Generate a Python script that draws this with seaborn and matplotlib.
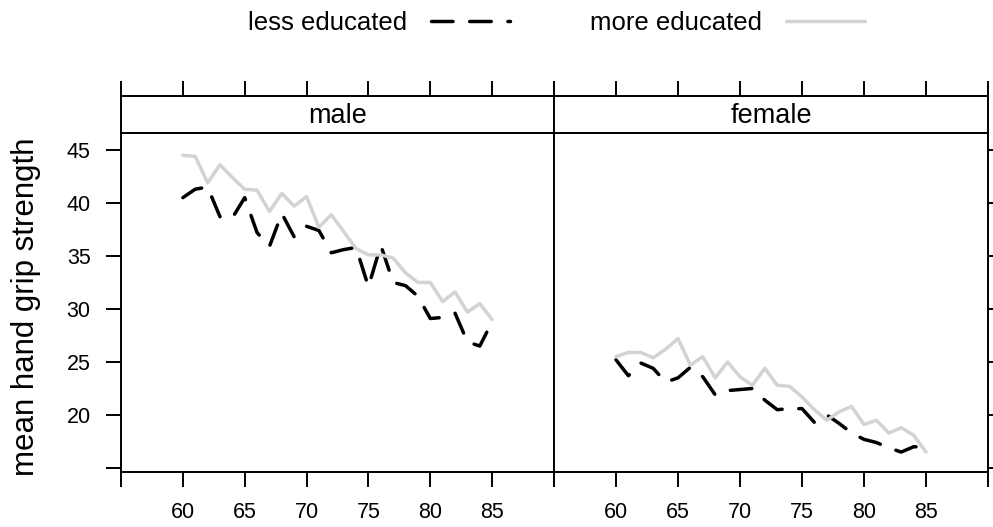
import numpy as np
import pandas as pd
import matplotlib
matplotlib.use("Agg")
import matplotlib.pyplot as plt
import seaborn as sns
from matplotlib.lines import Line2D

# values
ages = list(range(60, 86))
male_less = [40.5, 41.3, 41.5, 38.7, 38.6, 40.5, 37.2, 35.9, 39.0, 36.8, 37.8, 37.4, 35.3,
             35.6, 35.8, 32.1, 36.0, 32.5, 32.2, 31.2, 29.1, 29.2, 29.6, 26.9, 26.5, 28.8]
male_more = [44.5, 44.4, 41.9, 43.6, 42.4, 41.3, 41.2, 39.2, 40.9, 39.7, 40.6, 37.7, 38.9,
             37.3, 35.7, 35.1, 35.1, 34.8, 33.4, 32.5, 32.5, 30.7, 31.6, 29.7, 30.5, 29.0]
female_less = [25.2, 23.7, 24.9, 24.4, 23.1, 23.5, 24.5, 23.6, 21.9, 22.3, 22.4, 22.5, 21.4,
               20.5, 20.6, 20.6, 19.3, 20.0, 19.2, 18.3, 17.7, 17.4, 16.9, 16.5, 17.0, 17.0]
female_more = [25.5, 25.9, 25.9, 25.4, 26.2, 27.2, 24.7, 25.5, 23.5, 25.0, 23.6, 22.8, 24.4,
               22.8, 22.7, 21.7, 20.5, 19.5, 20.3, 20.8, 19.1, 19.5, 18.3, 18.8, 18.1, 16.5]
sexes = ["male", "female"]
educ_levels = ["less educated", "more educated"]
x_ticks = [55, 60, 65, 70, 75, 80, 85, 90]
y_ticks = [15, 20, 25, 30, 35, 40, 45]

frames = []
for sex, less, more in [("male", male_less, male_more), ("female", female_less, female_more)]:
    for educ, vals in zip(educ_levels, [less, more]):
        frames.append(pd.DataFrame({"age": ages, "grip": vals, "sex": sex, "educ": educ}))
df = pd.concat(frames, ignore_index=True)

sns.set_style("white")
plt.rcParams["font.family"] = ["Liberation Sans", "DejaVu Sans"]
plt.rcParams["text.color"] = "black"
plt.rcParams["axes.labelcolor"] = "black"
plt.rcParams["xtick.color"] = "black"
plt.rcParams["ytick.color"] = "black"

palette = {"less educated": "black", "more educated": "#D3D3D3"}
dashes = {"less educated": (6.2, 4.8), "more educated": ""}
lw = 2.5

W, H = 993, 527
fig = plt.figure(figsize=(W / 100, H / 100), dpi=100)

def box(x0, y0, x1, y1):
    return [x0 / W, 1 - y1 / H, (x1 - x0) / W, (y1 - y0) / H]

spine_w = 1.4
tick_kw = dict(length=10.8, width=spine_w, direction="out", labelsize=15.5, pad=11,
               color="black", labelcolor="black")
xlabels = ["" if t in (55, 90) else str(t) for t in x_ticks]
ylabels = ["" if t == 15 else str(t) for t in y_ticks]

for i, (sex, x0, x1) in enumerate([("male", 121, 554), ("female", 554, 988)]):
    ax = fig.add_axes(box(x0, 133, x1, 472))
    sns.lineplot(data=df[df["sex"] == sex], x="age", y="grip", hue="educ", style="educ",
                 hue_order=educ_levels, style_order=educ_levels, palette=palette,
                 dashes=dashes, linewidth=lw, errorbar=None, legend=False, ax=ax,
                 dash_capstyle="round", solid_capstyle="round", solid_joinstyle="round")
    ax.set_xlim(55, 90)
    ax.set_ylim(14.62, 46.6)
    ax.set_xlabel("")
    ax.set_ylabel("")
    ax.set_xticks(x_ticks)
    ax.set_xticklabels(xlabels)
    ax.set_yticks(y_ticks)
    ax.set_yticklabels(ylabels)
    ax.tick_params(**tick_kw)
    if i == 0:
        ax.tick_params(axis="y", left=True, right=False, labelleft=True)
    else:
        ax.tick_params(axis="y", left=False, right=True, labelleft=False, labelright=False)
    ax.tick_params(axis="x", bottom=True, top=False)
    for s in ax.spines.values():
        s.set_linewidth(spine_w)
        s.set_color("black")

    strip = fig.add_axes(box(x0, 96, x1, 133))
    strip.set_xlim(55, 90)
    strip.set_ylim(0, 1)
    strip.set_xticks(x_ticks)
    strip.set_yticks([])
    strip.tick_params(axis="x", **tick_kw)
    strip.tick_params(axis="x", bottom=False, top=True, labelbottom=False, labeltop=False)
    for s in strip.spines.values():
        s.set_linewidth(spine_w)
        s.set_color("black")
    strip.text(0.5, 0.45, sex, transform=strip.transAxes, ha="center", va="center",
               fontsize=19.5, color="black")

fig.text(26 / W, 1 - 307 / H, "mean hand grip strength", rotation=90,
         ha="center", va="center", fontsize=22.5, color="black")

handles = [
    Line2D([], [], color=palette["less educated"], lw=lw, dashes=dashes["less educated"],
           dash_capstyle="round"),
    Line2D([], [], color=palette["more educated"], lw=lw, solid_capstyle="round"),
]
fig.legend(handles, educ_levels, loc="center", bbox_to_anchor=(0.5604, 1 - 23 / H),
           ncol=2, frameon=False, markerfirst=False, fontsize=18.5,
           handlelength=3.1, handletextpad=0.93, columnspacing=3.1,
           borderaxespad=0, borderpad=0, labelcolor="black")

fig.savefig("out.png", dpi=100)
